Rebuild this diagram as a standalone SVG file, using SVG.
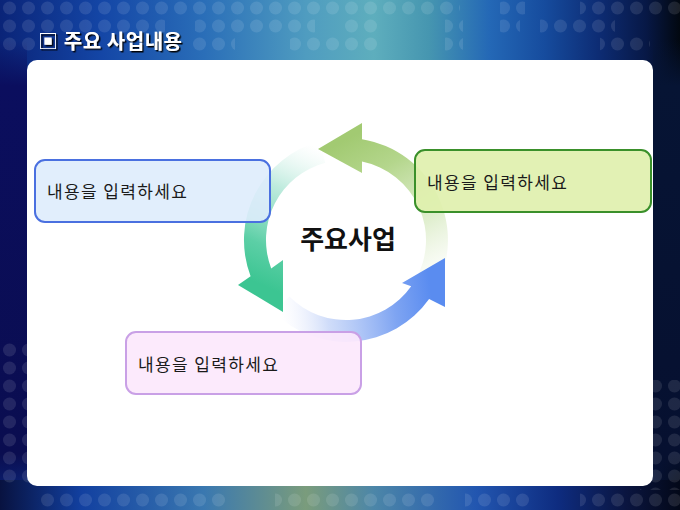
<svg xmlns="http://www.w3.org/2000/svg" width="680" height="510" viewBox="0 0 680 510">
<style>
.box-text{font-family:"Noto Sans CJK KR","Noto Sans",sans-serif;font-size:17px;fill:#1a1a1a}
.title{font-family:"Noto Sans CJK KR","Noto Sans",sans-serif;font-size:20px;font-weight:bold;fill:#ffffff}
.center{font-family:"Noto Sans CJK KR","Noto Sans",sans-serif;font-size:26px;font-weight:bold;fill:#111111}
.box{stroke-width:2}
</style>
<defs>
<linearGradient id="bgTop" x1="0" y1="0" x2="680" y2="0" gradientUnits="userSpaceOnUse">
<stop offset="0" stop-color="#0a2478"/>
<stop offset="0.15" stop-color="#1446a6"/>
<stop offset="0.3" stop-color="#2a6eb8"/>
<stop offset="0.45" stop-color="#4f9cc0"/>
<stop offset="0.55" stop-color="#5eaebd"/>
<stop offset="0.63" stop-color="#4696b0"/>
<stop offset="0.72" stop-color="#2468b6"/>
<stop offset="0.8" stop-color="#164c9e"/>
<stop offset="0.88" stop-color="#0d2c74"/>
<stop offset="0.95" stop-color="#071846"/>
<stop offset="1" stop-color="#020810"/>
</linearGradient>
<linearGradient id="bgBot" x1="0" y1="0" x2="680" y2="0" gradientUnits="userSpaceOnUse">
<stop offset="0" stop-color="#081240"/>
<stop offset="0.12" stop-color="#1240a0"/>
<stop offset="0.3" stop-color="#3a78b0"/>
<stop offset="0.45" stop-color="#7a9c7c"/>
<stop offset="0.55" stop-color="#4c86a8"/>
<stop offset="0.7" stop-color="#2256b0"/>
<stop offset="0.82" stop-color="#0e2c80"/>
<stop offset="0.92" stop-color="#0a1540"/>
<stop offset="1" stop-color="#030818"/>
</linearGradient>
<linearGradient id="sideL" x1="0" y1="40" x2="0" y2="500" gradientUnits="userSpaceOnUse">
<stop offset="0" stop-color="#0b0e5e" stop-opacity="0"/>
<stop offset="0.1" stop-color="#0b0e5e" stop-opacity="1"/>
<stop offset="0.9" stop-color="#0a0d50" stop-opacity="1"/>
<stop offset="1" stop-color="#0a0d50" stop-opacity="0"/>
</linearGradient>
<linearGradient id="sideR" x1="0" y1="40" x2="0" y2="500" gradientUnits="userSpaceOnUse">
<stop offset="0" stop-color="#061434" stop-opacity="0"/>
<stop offset="0.1" stop-color="#061434" stop-opacity="1"/>
<stop offset="0.9" stop-color="#061030" stop-opacity="1"/>
<stop offset="1" stop-color="#061030" stop-opacity="0"/>
</linearGradient>
<pattern id="dots" x="0" y="-1" width="19" height="18" patternUnits="userSpaceOnUse">
<circle cx="9.5" cy="9" r="6.5" fill="#ffffff" fill-opacity="0.1"/>
</pattern>
<pattern id="dotsB" x="0" y="491" width="19" height="18" patternUnits="userSpaceOnUse">
<circle cx="9.5" cy="9" r="6.5" fill="#ffffff" fill-opacity="0.1"/>
</pattern>
<linearGradient id="gGreen" x1="428" y1="290" x2="345" y2="140" gradientUnits="userSpaceOnUse">
<stop offset="0" stop-color="#e6f0d8" stop-opacity="0"/>
<stop offset="0.35" stop-color="#d4e8bc" stop-opacity="0.7"/>
<stop offset="0.75" stop-color="#b4d68c"/>
<stop offset="1" stop-color="#a2ca72"/>
</linearGradient>
<linearGradient id="gTeal" x1="322" y1="150" x2="262" y2="285" gradientUnits="userSpaceOnUse">
<stop offset="0" stop-color="#d8f2ea" stop-opacity="0"/>
<stop offset="0.35" stop-color="#a8e4d2" stop-opacity="0.75"/>
<stop offset="0.75" stop-color="#5ccfa6"/>
<stop offset="1" stop-color="#3cc592"/>
</linearGradient>
<linearGradient id="gBlue" x1="280" y1="306" x2="430" y2="285" gradientUnits="userSpaceOnUse">
<stop offset="0" stop-color="#e8ecfc" stop-opacity="0"/>
<stop offset="0.3" stop-color="#c4d4f8" stop-opacity="0.8"/>
<stop offset="0.75" stop-color="#7ea4f2"/>
<stop offset="1" stop-color="#5a8cf0"/>
</linearGradient>
<filter id="shadow" x="-10%" y="-30%" width="130%" height="170%">
<feDropShadow dx="1.5" dy="1.5" stdDeviation="0.6" flood-color="#000000" flood-opacity="0.95"/>
</filter>
</defs>

<g id="background">
<rect x="0" y="0" width="680" height="510" fill="url(#bgTop)"/>
<rect x="0" y="40" width="27" height="460" fill="url(#sideL)"/>
<rect x="653" y="40" width="27" height="460" fill="url(#sideR)"/>
<rect x="0" y="480" width="680" height="30" fill="url(#bgBot)"/>
<rect x="0" y="0" width="460" height="18" fill="url(#dots)"/>
<rect x="500" y="0" width="25" height="18" fill="url(#dots)"/>
<rect x="580" y="0" width="100" height="18" fill="url(#dots)"/>
<rect x="0" y="18" width="165" height="18" fill="url(#dots)"/>
<rect x="195" y="18" width="120" height="18" fill="url(#dots)"/>
<rect x="345" y="18" width="35" height="18" fill="url(#dots)"/>
<rect x="445" y="18" width="18" height="18" fill="url(#dots)"/>
<rect x="500" y="18" width="20" height="18" fill="url(#dots)"/>
<rect x="540" y="18" width="75" height="18" fill="url(#dots)"/>
<rect x="0" y="36" width="35" height="18" fill="url(#dots)"/>
<rect x="190" y="36" width="45" height="18" fill="url(#dots)"/>
<rect x="290" y="36" width="90" height="18" fill="url(#dots)"/>
<rect x="445" y="36" width="18" height="18" fill="url(#dots)"/>
<rect x="600" y="36" width="50" height="18" fill="url(#dots)"/>
<rect x="0" y="341" width="40" height="145" fill="url(#dots)"/>
<rect x="640" y="380" width="40" height="110" fill="url(#dots)"/>
<rect x="38" y="491" width="192" height="18" fill="url(#dotsB)"/>
<rect x="275" y="491" width="160" height="18" fill="url(#dotsB)"/>
<rect x="465" y="491" width="70" height="18" fill="url(#dotsB)"/>
<rect x="580" y="491" width="100" height="18" fill="url(#dotsB)"/>
</g>

<g id="title">
<text class="title" x="38" y="49" textLength="144" lengthAdjust="spacing" filter="url(#shadow)">▣ 주요 사업내용</text>
</g>

<g id="panel">
<rect x="27" y="60" width="626" height="426" rx="10" ry="10" fill="#ffffff"/>
</g>

<g id="cycle-arrows">
<path d="M318,149 L362,123 L362,139.3 A102,102 0 0 1 434.3,291 L415.3,280 A80,80 0 0 0 362,161.6 L362,173 Z" fill="url(#gGreen)"/>
<path d="M445,258 L445,307 L429.1,299.1 A102,102 0 0 1 273.9,312.1 L289.4,296.6 A80,80 0 0 0 411.2,286.3 L402,283 Z" fill="url(#gBlue)"/>
<path d="M283,312 L238,285 L250.6,276.2 A102,102 0 0 1 319.6,141.5 L325.3,162.7 A80,80 0 0 0 271.2,268.4 L283,260 Z" fill="url(#gTeal)"/>
</g>

<g id="center-node">
<text class="center" x="348" y="249" text-anchor="middle">주요사업</text>
</g>

<g id="box-left">
<rect class="box" x="35" y="160" width="235" height="62" rx="10" ry="10" fill="#deecfc" fill-opacity="0.9" stroke="#4a70e0"/>
<text class="box-text" x="47" y="198" textLength="140" lengthAdjust="spacing">내용을 입력하세요</text>
</g>

<g id="box-right">
<rect class="box" x="415" y="150" width="236" height="62" rx="10" ry="10" fill="#e0f0ae" fill-opacity="0.92" stroke="#3a902a"/>
<text class="box-text" x="427" y="189" textLength="140" lengthAdjust="spacing">내용을 입력하세요</text>
</g>

<g id="box-bottom">
<rect class="box" x="126" y="332" width="235" height="62" rx="10" ry="10" fill="#fce8fc" fill-opacity="0.92" stroke="#c9a0e6"/>
<text class="box-text" x="138" y="371" textLength="140" lengthAdjust="spacing">내용을 입력하세요</text>
</g>
</svg>
